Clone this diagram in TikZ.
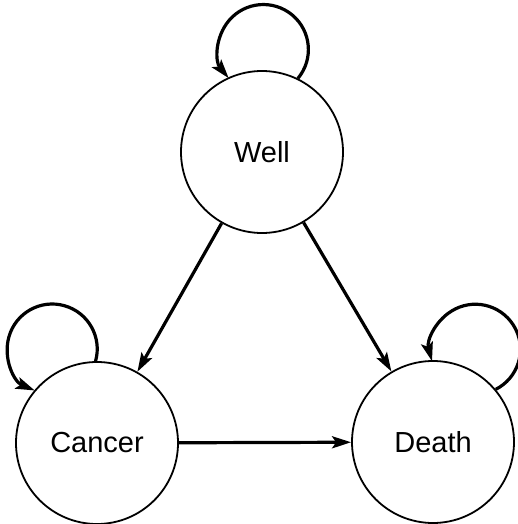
\documentclass[tikz,border=0pt]{standalone}
\usepackage{fontspec}
\setmainfont{Liberation Sans}
\usetikzlibrary{arrows.meta}
\begin{document}
\begin{tikzpicture}[x=1pt,y=-1pt,
  state/.style={draw, circle, line width=1.8pt, minimum size=162pt, inner sep=0pt,
    font=\fontsize{29}{34}\selectfont},
  trans/.style={line width=3.2pt, -{Stealth[length=19pt,width=12pt,inset=4pt]}},
  selfloop/.style={line width=3.2pt, -{Stealth[length=19pt,width=12pt,inset=4pt]}}]
\useasboundingbox (0,0) rectangle (517,524);
\node[state] (Well) at (262,152) {Well};
\node[state] (Cancer) at (97,443) {Cancer};
\node[state] (Death) at (433,442) {Death};
\draw[trans] (Well) -- (Cancer);
\draw[trans] (Well) -- (Death);
\draw[trans] (Cancer) -- (Death);
\draw[selfloop] (Well.64.2) arc[start angle=39.9, end angle=-219.5, radius=45];
\draw[selfloop] (Cancer.91.2) arc[start angle=15.6, end angle=-247.1, radius=45];
\draw[selfloop] (Death.40.7) arc[start angle=63.1, end angle=-195.5, radius=45];
\end{tikzpicture}
\end{document}
